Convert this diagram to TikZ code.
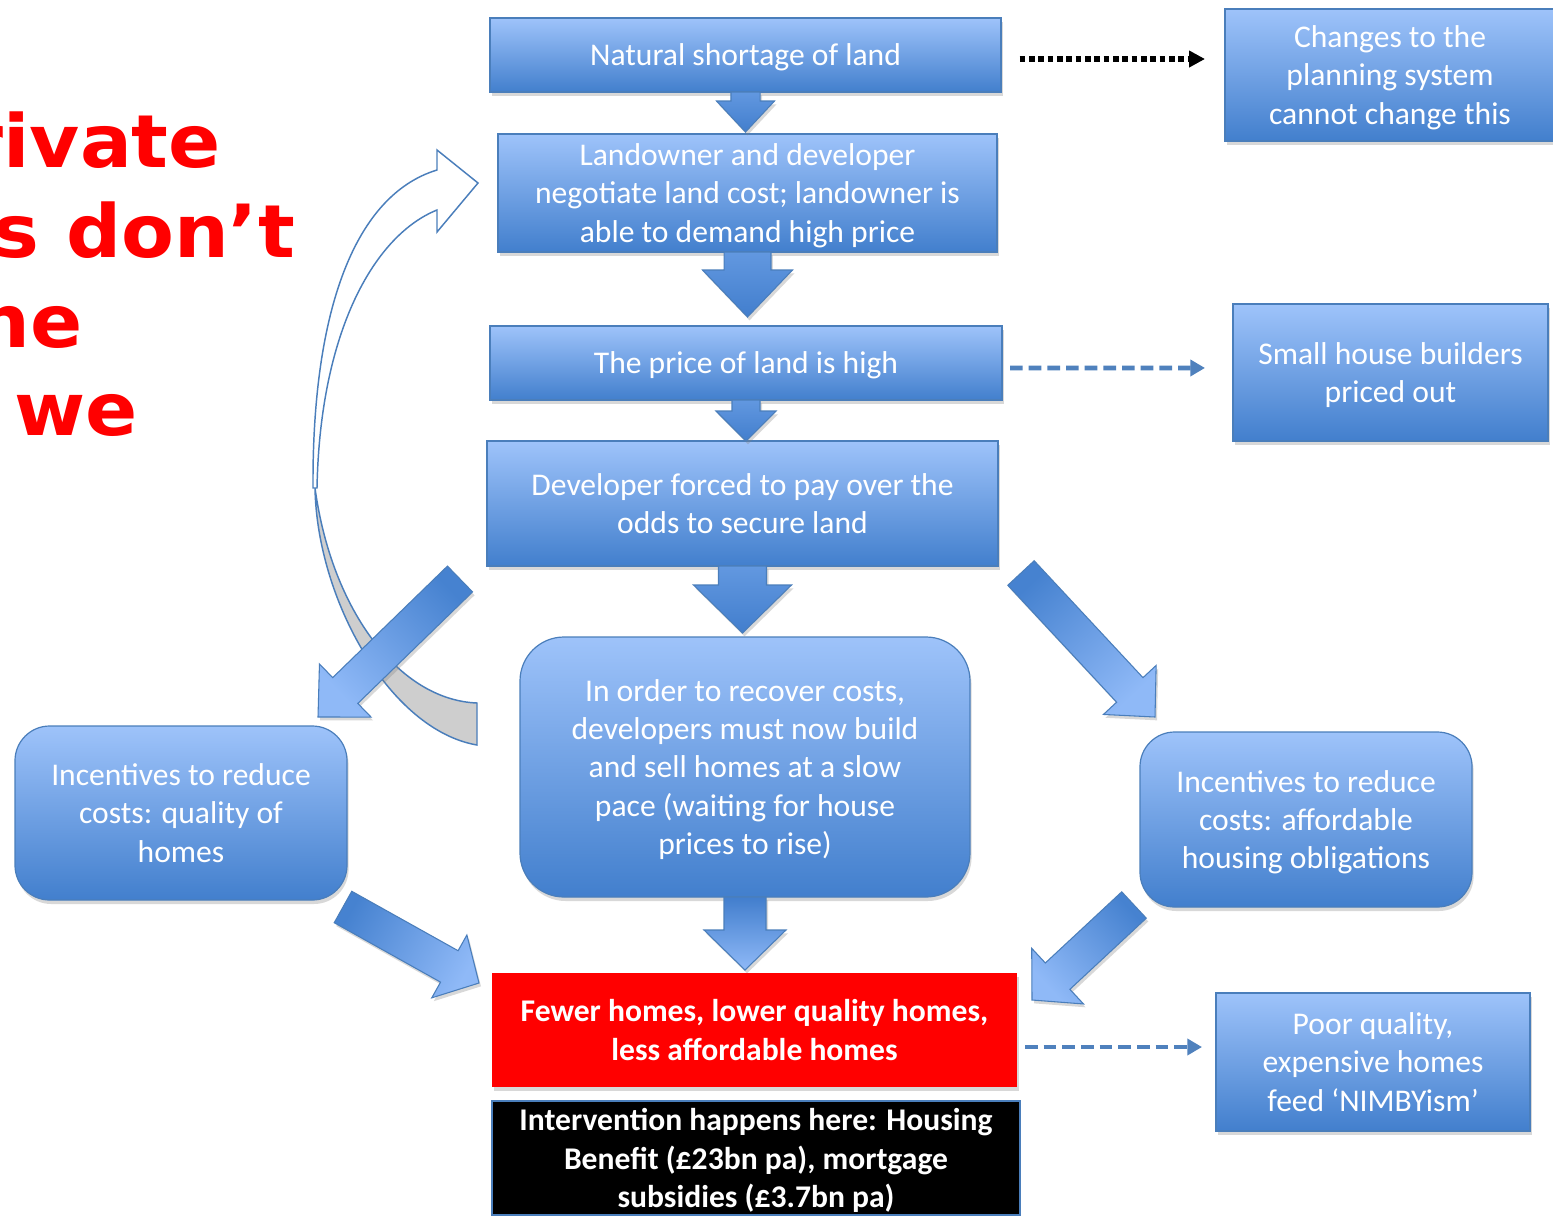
\documentclass[tikz,border=0pt]{standalone}
\usepackage{fontspec}
\setmainfont{Carlito}
\newfontfamily\vfont{DejaVu Sans}[FakeStretch=1.05]
\usetikzlibrary{calc,shadows,arrows.meta}
\definecolor{boxtop}{RGB}{158,195,250}
\definecolor{boxbot}{RGB}{66,127,205}
\definecolor{bordc}{RGB}{74,126,187}
\definecolor{dashc}{RGB}{79,129,189}
\definecolor{ribbonc}{RGB}{206,206,206}
\definecolor{darr}{RGB}{70,130,208}
\definecolor{larr}{RGB}{143,185,247}
\definecolor{marr}{RGB}{98,152,224}
\definecolor{narr}{RGB}{66,126,205}
\definecolor{hotred}{RGB}{255,0,0}
\newcommand\boxfont{\fontsize{23.7}{28.7}\selectfont}
\newcommand\mkarrow[8]{%
  \coordinate (ahb) at ($(#2)!#5!(#1)$);
  \path[blockarr, top color=#6, bottom color=#7, shading angle=#8]
    ($(#1)!#3!90:(#2)$) -- ($(ahb)!#3!90:(#2)$) -- ($(ahb)!#4!90:(#2)$) -- (#2)
    -- ($(ahb)!#4!-90:(#2)$) -- ($(ahb)!#3!-90:(#2)$) -- ($(#1)!#3!-90:(#2)$) -- cycle;
}
\begin{document}
\begin{tikzpicture}[x=0.75pt,y=-0.75pt,
  box/.style={draw=bordc, line width=0.9pt, top color=boxtop, bottom color=boxbot,
    text=white, font=\boxfont, align=center, inner sep=0pt, outer sep=0pt, text depth=0pt,
    drop shadow={shadow xshift=1.2pt, shadow yshift=-3pt, opacity=0.3}},
  redbox/.style={fill=hotred, text=white, font=\boxfont\bfseries, align=center,
    inner sep=0pt, outer sep=0pt, text depth=0pt,
    drop shadow={shadow xshift=1.2pt, shadow yshift=-3pt, opacity=0.3}},
  blackbox/.style={fill=black, draw=bordc, line width=1.2pt, text=white,
    font=\boxfont\bfseries, align=center, inner sep=0pt, outer sep=0pt, text depth=0pt},
  redword/.style={text=hotred, font=\vfont\bfseries\fontsize{55}{66}\selectfont,
    inner sep=0pt, outer sep=0pt, anchor=base east},
  blockarr/.style={draw=bordc, line width=0.8pt,
    drop shadow={shadow xshift=1.5pt, shadow yshift=-2.5pt, opacity=0.3}},
  dotarr/.style={line width=3.8pt, draw=black, dash pattern=on 4.2pt off 2.8pt,
    -{Triangle[length=12pt,width=12pt]}},
  dasharr/.style={line width=3.6pt, draw=dashc, dash pattern=on 9.5pt off 4.5pt,
    -{Triangle[length=11pt,width=12pt]}},
]
\useasboundingbox (0,0) rectangle (1553,1218);
\fill[white] (0,0) rectangle (1553,1218);
\begin{scope}
\clip (0,0) rectangle (1553,1218);

% red heading fragments
\node[redword] (w1) at (221,167) {rivate};
\node[redword] (w2) at (295,257) {s don’t};
\node[redword] (w3) at (83,347) {he};
\node[redword] (w4) at (138,435) {we};

% curved feedback arrow
\path[fill=ribbonc, draw=bordc, line width=1.1pt]
  (315,488) .. controls (317,600) and (390,730) .. (477,745)
  -- (477,703) .. controls (400,700) and (332,612) .. (315,488) -- cycle;
\path[fill=white, draw=bordc, line width=1.1pt]
  (313,488) .. controls (312,310) and (355,195) .. (437,170)
  -- (437,150) -- (478,183) -- (437,232) -- (437,210)
  .. controls (375,235) and (320,330) .. (317,488) -- cycle;

% boxes
\node[box, minimum width=383.25pt, minimum height=55.5pt] (b1) at (745.5,55)
  {Natural shortage of land};
\node[box, minimum width=374.25pt, minimum height=88.5pt] (b2) at (747.5,193)
  {Landowner and developer\\negotiate land cost; landowner is\\able to demand high price};
\node[box, minimum width=384pt, minimum height=55.5pt] (b3) at (746,363)
  {The price of land is high};
\node[box, minimum width=383.25pt, minimum height=93.75pt] (b4) at (742.5,503.5)
  {Developer forced to pay over the\\odds to secure land};
\node[box, rounded corners=33pt, minimum width=337.5pt, minimum height=195pt] (b5) at (745,767)
  {In order to recover costs,\\developers must now build\\and sell homes at a slow\\pace (waiting for house\\prices to rise)};
\node[box, rounded corners=26pt, minimum width=249pt, minimum height=130.5pt] (lq) at (181,813)
  {Incentives to reduce\\costs: quality of\\homes};
\node[box, rounded corners=26pt, minimum width=249pt, minimum height=131.25pt] (ra) at (1306,819.5)
  {Incentives to reduce\\costs: affordable\\housing obligations};
\node[redbox, minimum width=393.75pt, minimum height=85.5pt] (res) at (754.5,1030)
  {Fewer homes, lower quality homes,\\less affordable homes};
\node[blackbox, minimum width=396pt, minimum height=85.5pt] (int) at (756,1158)
  {Intervention happens here: Housing\\Benefit (£23bn pa), mortgage\\subsidies (£3.7bn pa)};
\node[box, minimum width=247.5pt, minimum height=99pt] (r1) at (1390,75)
  {Changes to the\\planning system\\cannot change this};
\node[box, minimum width=236.25pt, minimum height=102.75pt] (r2) at (1390.5,372.5)
  {Small house builders\\priced out};
\node[box, minimum width=235.5pt, minimum height=103.5pt] (r3) at (1373,1062)
  {Poor quality,\\expensive homes\\feed ‘NIMBYism’};

% block arrow end points
\coordinate (a1t) at (b1.south);
\coordinate (a1p) at ($(b1.south |- b2.north)+(0,-2)$);
\coordinate (a2t) at (b2.south);
\coordinate (a2p) at ($(b2.south |- b3.north)+(0,-9)$);
\coordinate (a3t) at (b3.south);
\coordinate (a3p) at (b3.south |- b4.north);
\coordinate (a4t) at (b4.south);
\coordinate (a4p) at ($(b4.south |- b5.north)+(0,-4)$);
\coordinate (a5t) at (b5.south);
\coordinate (a5p) at ($(b5.south |- res.north)+(0,-3)$);
\coordinate (dlt) at ($(b4.south west)+(-27,13)$);
\coordinate (dlp) at ($(lq.north east)+(-29,-9)$);
\coordinate (drt) at ($(b4.south east)+(23,7)$);
\coordinate (drp) at ($(ra.north west)+(15,-15)$);
\coordinate (blt) at ($(lq.south east)+(-4,7)$);
\coordinate (blp) at ($(res.west)+(-13,-47)$);
\coordinate (brt) at ($(ra.south west)+(-6,-2)$);
\coordinate (brp) at ($(res.east)+(15,-30)$);

% block arrows
\mkarrow{a1t}{a1p}{10.9pt}{21.75pt}{23.25pt}{marr}{narr}{0}
\mkarrow{a2t}{a2p}{17.6pt}{33.75pt}{35.25pt}{marr}{narr}{0}
\mkarrow{a3t}{a3p}{10.5pt}{22.5pt}{22.5pt}{marr}{narr}{0}
\mkarrow{a4t}{a4p}{18pt}{36.75pt}{36pt}{marr}{narr}{0}
\mkarrow{a5t}{a5p}{15.75pt}{30.75pt}{30pt}{narr}{larr}{0}
\mkarrow{dlt}{dlp}{13.5pt}{27.75pt}{28.5pt}{darr}{larr}{-45.8}
\mkarrow{drt}{drp}{13.5pt}{27pt}{27.75pt}{darr}{larr}{43}
\mkarrow{blt}{blp}{13.5pt}{27pt}{25.5pt}{darr}{larr}{60.8}
\mkarrow{brt}{brp}{13.5pt}{28.5pt}{26.25pt}{darr}{larr}{-47}

% dotted / dashed side arrows
\draw[dotarr] ([xshift=14pt,yshift=-3pt]b1.east) -- ([xshift=-15pt,yshift=12pt]r1.west);
\draw[dasharr] ([xshift=6pt,yshift=-3.75pt]b3.east) -- ([xshift=-21pt,yshift=3.4pt]r2.west);
\draw[dasharr] ([xshift=6pt,yshift=-12.75pt]res.east) -- ([xshift=-10.5pt,yshift=11.25pt]r3.west);
\end{scope}
\end{tikzpicture}
\end{document}
